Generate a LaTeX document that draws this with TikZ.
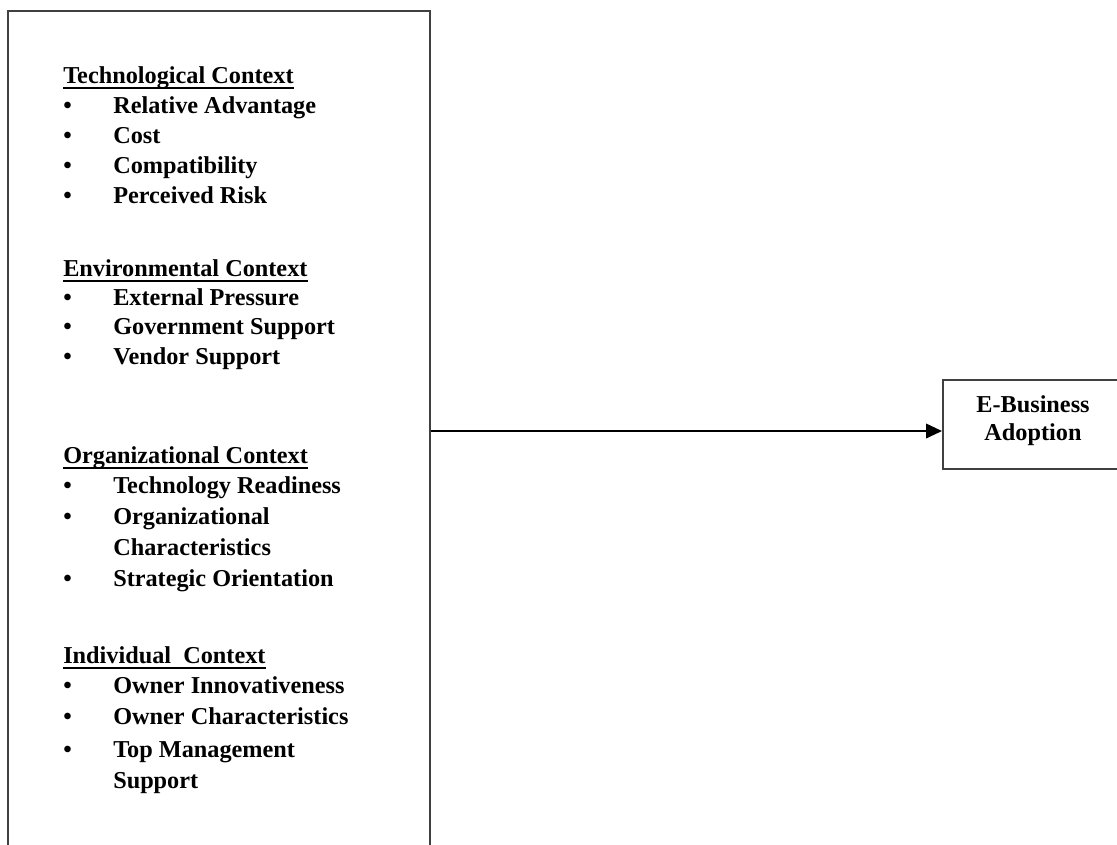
\documentclass[tikz,border=0pt]{standalone}
\usepackage{fontspec}
\setmainfont{Liberation Serif}
\usetikzlibrary{arrows.meta}
\begin{document}
\begin{tikzpicture}[x=0.75pt,y=-0.75pt,
  txt/.style={anchor=base west,inner sep=0pt,font=\fontsize{18.2}{21}\selectfont\bfseries},
  frame/.style={draw=black!75,line width=1.4pt,inner sep=0pt},
  uline/.style={line width=1.5pt},
  arr/.style={line width=1.3pt,-{Triangle[length=12pt,width=11pt]}}]
\clip (0,0) rectangle (1117,844);
\fill[white] (0,0) rectangle (1117,844);
% left box (bottom runs off the page)
\node (ctx) [frame,anchor=north west,minimum width=316.5pt,minimum height=675pt] at (7,10) {};
% right box (right side runs off the page)
\node (eb) [frame,anchor=north west,minimum width=150pt,minimum height=66.75pt] at (942,379) {};
\node (ebt) [font=\fontsize{18.2}{21}\selectfont\bfseries,align=center,inner sep=0pt] at (1033,421) {E-Business\\Adoption};
% Technological
\node (h1) [txt] at (63,83) {Technological Context};
\draw[uline] ([yshift=-3.4pt]h1.base west) -- ([yshift=-3.4pt]h1.base east);
\foreach \n/\y/\t in {t1/113/Relative Advantage,t2/143/Cost,t3/173/Compatibility,t4/203/Perceived Risk}{
  \node (b\n) [txt] at (63,\y) {•};
  \node (\n) [txt] at (113,\y) {\t};}
% Environmental
\node (h2) [txt] at (63,276) {Environmental Context};
\draw[uline] ([yshift=-3.4pt]h2.base west) -- ([yshift=-3.4pt]h2.base east);
\foreach \n/\y/\t in {e1/305/External Pressure,e2/334/Government Support,e3/364/Vendor Support}{
  \node (b\n) [txt] at (63,\y) {•};
  \node (\n) [txt] at (113,\y) {\t};}
% Organizational
\node (h3) [txt] at (63,463) {Organizational Context};
\draw[uline] ([yshift=-3.4pt]h3.base west) -- ([yshift=-3.4pt]h3.base east);
\foreach \n/\y/\t in {o1/493/Technology Readiness,o2/524/Organizational,o4/586/Strategic Orientation}{
  \node (b\n) [txt] at (63,\y) {•};
  \node (\n) [txt] at (113,\y) {\t};}
\node (o3) [txt] at (113,555) {Characteristics};
% Individual
\node (h4) [txt] at (63,663) {Individual\ \ Context};
\draw[uline] ([yshift=-3.4pt]h4.base west) -- ([yshift=-3.4pt]h4.base east);
\foreach \n/\y/\t in {i1/693/Owner Innovativeness,i2/724/Owner Characteristics,i3/757/Top Management}{
  \node (b\n) [txt] at (63,\y) {•};
  \node (\n) [txt] at (113,\y) {\t};}
\node (i4) [txt] at (113,788) {Support};
% connector
\coordinate (a) at (ctx.east |- 0,431);
\draw[arr] (a) -- (eb.west |- a);
\end{tikzpicture}
\end{document}
